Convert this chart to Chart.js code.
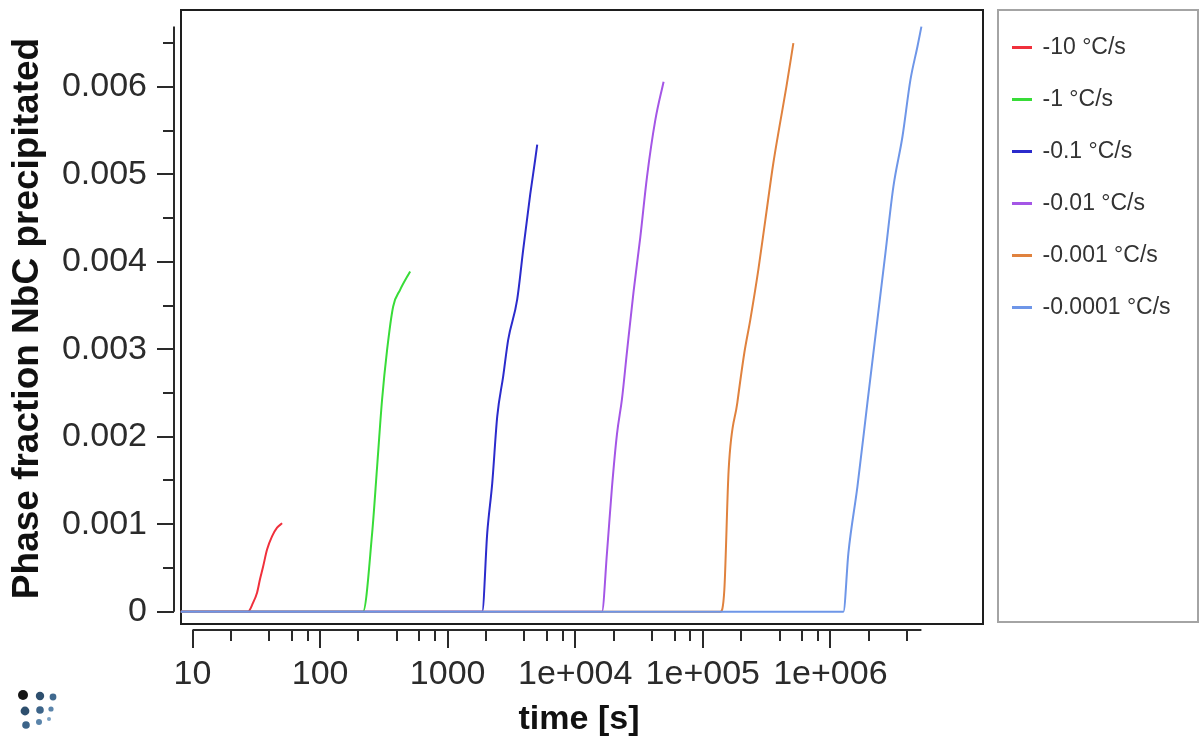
<!DOCTYPE html>
<html>
<head>
<meta charset="utf-8">
<title>Phase fraction NbC precipitated</title>
<script src="https://cdn.jsdelivr.net/npm/chart.js@4.4.1/dist/chart.umd.min.js"></script>
<style>
  html, body { margin: 0; padding: 0; background: #ffffff; }
  canvas { display: block; }
</style>
</head>
<body>
<canvas id="chart" width="1203" height="740"></canvas>
<script>
// series (time in s, phase fraction)
const seriesLabels = ['-10 °C/s', '-1 °C/s', '-0.1 °C/s', '-0.01 °C/s', '-0.001 °C/s', '-0.0001 °C/s'];
const seriesColors = ['#f0303c', '#38dc38', '#2b2bcc', '#a456e6', '#e0823e', '#6e96e8'];

const time10 = [8.1, 27.2, 29.8, 32.1, 33.8, 35.7, 38.4, 42.0, 46.0, 50.4];
const frac10 = [0, 0, 0.0001, 0.00022, 0.00037, 0.00051, 0.00071, 0.00086, 0.00096, 0.00101];

const time1 = [8.1, 217, 256, 280, 306, 335, 374, 424, 508];
const frac1 = [0, 0, 0.0009, 0.00166, 0.00242, 0.00299, 0.00349, 0.00368, 0.00389];

const time01 = [8.1, 1866, 2043, 2236, 2446, 2724, 2983, 3509, 3910, 4437, 4855, 5035];
const frac01 = [0, 0, 0.0009, 0.00147, 0.00223, 0.00269, 0.00311, 0.00357, 0.00414, 0.00477, 0.00517, 0.00534];

const time001 = [8.1, 16200, 17730, 19400, 21240, 23240, 25440, 28660, 32350, 36500, 42420, 49270];
const frac001 = [0, 0, 0.00067, 0.00142, 0.00203, 0.00243, 0.00297, 0.00366, 0.00428, 0.00497, 0.00562, 0.00606];

const time0001 = [8.1, 137200, 147500, 159400, 186500, 211600, 235800, 272500, 309200, 357200, 398100, 451800, 512700];
const frac0001 = [0, 0, 0.00025, 0.00162, 0.00239, 0.00296, 0.00334, 0.00391, 0.00448, 0.00513, 0.00554, 0.006, 0.0065];

const time00001 = [8.1, 1265000, 1384000, 1629000, 1951000, 2337000, 2700000, 3118000, 3671000, 4240000, 4810000, 5170000];
const frac00001 = [0, 0, 0.00067, 0.00143, 0.00239, 0.00334, 0.0041, 0.00486, 0.00543, 0.00608, 0.00646, 0.00669];

const seriesTimes = [time10, time1, time01, time001, time0001, time00001];
const seriesFracs = [frac10, frac1, frac01, frac001, frac0001, frac00001];

// axis ticks
const xMajorTicks = [10, 100, 1000, 1e4, 1e5, 1e6];
const xTickLabels = ['10', '100', '1000', '1e+004', '1e+005', '1e+006'];
const xMinorSteps = [2, 4, 6, 8];
const yMajorTicks = [0, 0.001, 0.002, 0.003, 0.004, 0.005, 0.006];
const yTickLabels = ['0', '0.001', '0.002', '0.003', '0.004', '0.005', '0.006'];
const yMinorStep = 0.0005;

const FONT = '"Liberation Sans", Arial, sans-serif';
const xAxisEnd = Math.max(...seriesTimes.map(t => t[t.length - 1]));
const yAxisEnd = Math.max(...seriesFracs.map(f => Math.max(...f)));

// the legend column keeps a fixed width like the original program
const legendWidth = {
    id: 'legendWidth',
    beforeLayout(chart) {
        const lg = chart.legend;
        if (lg && !lg._fixedWidth) {
            const fit = lg.fit;
            lg.fit = function () {
                fit.call(this);
                this.width = 219;
            };
            lg._fixedWidth = true;
        }
    }
};

const frameAndAxes = {
    id: 'frameAndAxes',
    beforeDatasetsDraw(chart) {
        const { ctx, chartArea: a } = chart;
        ctx.save();
        ctx.strokeStyle = '#1e1e1e';
        ctx.lineWidth = 2;
        ctx.strokeRect(a.left + 7, a.top + 3, a.right - a.left - 8, a.bottom - a.top - 9);
        ctx.restore();
    },
    afterDraw(chart) {
        const { ctx, chartArea: a, scales: { x, y }, legend } = chart;
        ctx.save();
        ctx.strokeStyle = '#2a2a2a';
        ctx.lineWidth = 2;
        ctx.beginPath();
        // x axis, only over the data range
        ctx.moveTo(x.getPixelForValue(xMajorTicks[0]), a.bottom);
        ctx.lineTo(x.getPixelForValue(xAxisEnd), a.bottom);
        x.ticks.forEach(t => {
            const px = Math.round(x.getPixelForValue(t.value));
            ctx.moveTo(px, a.bottom);
            ctx.lineTo(px, a.bottom + (t.major ? 18 : 11));
        });
        // y axis
        ctx.moveTo(a.left, y.getPixelForValue(0));
        ctx.lineTo(a.left, y.getPixelForValue(yAxisEnd));
        y.ticks.forEach(t => {
            const py = Math.round(y.getPixelForValue(t.value));
            ctx.moveTo(a.left, py);
            ctx.lineTo(a.left - (t.major ? 17 : 11), py);
        });
        ctx.stroke();

        // legend box
        ctx.strokeStyle = '#a4a4a4';
        ctx.lineWidth = 2;
        ctx.strokeRect(legend.left + 14, a.top + 3, legend.right - legend.left - 19, a.bottom - a.top - 11);

        // little dot logo, bottom left
        const dots = [
            [23, 695, 5, '#151515'], [40, 696, 4.2, '#2e4f6e'], [53, 697, 3.4, '#40698f'],
            [25, 711, 4.4, '#2e4f6e'], [40, 710, 3.8, '#3c6489'], [51, 709, 2.6, '#5a84aa'],
            [26, 725, 3.8, '#3c6489'], [39, 722, 3, '#5a84aa'], [49, 719, 2, '#7aa0c2']
        ];
        dots.forEach(([cx, cy, r, c]) => {
            ctx.fillStyle = c;
            ctx.beginPath();
            ctx.arc(cx, cy, r, 0, Math.PI * 2);
            ctx.fill();
        });
        ctx.restore();
    }
};

const ctx = document.getElementById('chart').getContext('2d');

new Chart(ctx, {
    type: 'line',
    data: {
        datasets: seriesLabels.map((label, i) => ({
            label: label,
            data: seriesTimes[i].map((t, j) => ({ x: t, y: seriesFracs[i][j] })),
            borderColor: seriesColors[i],
            backgroundColor: seriesColors[i],
            borderWidth: 2,
            pointRadius: 0,
            cubicInterpolationMode: 'monotone',
            order: seriesLabels.length - i
        }))
    },
    options: {
        responsive: false,
        animation: false,
        layout: { padding: { top: 7, left: 0, right: 0, bottom: 0 } },
        plugins: {
            legend: {
                position: 'right',
                align: 'start',
                labels: {
                    boxWidth: 18,
                    boxHeight: 1,
                    padding: 29,
                    color: '#333333',
                    font: { family: FONT, size: 23 },
                    sort: (a, b) => a.datasetIndex - b.datasetIndex
                }
            },
            tooltip: { enabled: false }
        },
        scales: {
            x: {
                type: 'logarithmic',
                min: 7.16,
                max: 1.6e7,
                grid: { display: false, drawTicks: true, tickLength: 18 },
                border: { display: false },
                afterBuildTicks: (scale) => {
                    const ticks = [];
                    xMajorTicks.forEach((d, i) => {
                        ticks.push({ value: d, major: true, text: xTickLabels[i] });
                        xMinorSteps.forEach(m => {
                            if (d * m <= xAxisEnd) ticks.push({ value: d * m, major: false, text: '' });
                        });
                    });
                    scale.ticks = ticks;
                },
                ticks: {
                    autoSkip: false,
                    maxRotation: 0,
                    padding: 6,
                    color: '#2b2b2b',
                    font: { family: FONT, size: 34 },
                    callback: (value, index, ticks) => ticks[index].text
                },
                title: {
                    display: true,
                    text: 'time [s]',
                    color: '#111111',
                    font: { family: FONT, size: 34, weight: 'bold' },
                    padding: { top: 0, bottom: 0 }
                },
                afterFit: (scale) => {
                    scale.height = 110;
                    scale.paddingLeft = 0;
                    scale.paddingRight = 0;
                }
            },
            y: {
                type: 'linear',
                min: -0.00021,
                max: 0.006914,
                grid: { display: false, drawTicks: true, tickLength: 17 },
                border: { display: false },
                afterBuildTicks: (scale) => {
                    const ticks = [];
                    yMajorTicks.forEach((v, i) => {
                        ticks.push({ value: v, major: true, text: yTickLabels[i] });
                        if (v + yMinorStep <= yAxisEnd) ticks.push({ value: v + yMinorStep, major: false, text: '' });
                    });
                    scale.ticks = ticks;
                },
                ticks: {
                    autoSkip: false,
                    padding: 10,
                    color: '#2b2b2b',
                    font: { family: FONT, size: 34 },
                    callback: (value, index, ticks) => ticks[index].text
                },
                title: {
                    display: true,
                    text: 'Phase fraction NbC precipitated',
                    color: '#111111',
                    font: { family: FONT, size: 37, weight: 'bold' },
                    padding: { top: 6, bottom: 0 }
                },
                afterFit: (scale) => {
                    scale.width = 174;
                    scale.paddingTop = 0;
                    scale.paddingBottom = 0;
                }
            }
        }
    },
    plugins: [legendWidth, frameAndAxes]
});
</script>
</body>
</html>
